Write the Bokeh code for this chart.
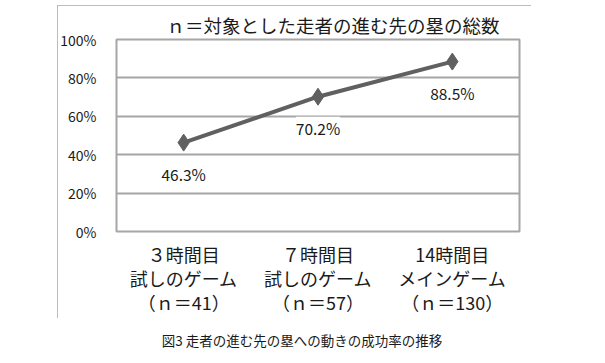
from bokeh.plotting import figure
from bokeh.models import (ColumnDataSource, LabelSet, Div,
                          FixedTicker, PrintfTickFormatter, FactorRange, Range1d)
from bokeh.layouts import column
from bokeh.core.properties import value
from bokeh.embed import file_html
from bokeh.resources import INLINE

# ---- data ----
categories = ["３時間目\n試しのゲーム\n（ｎ＝41）",
              "７時間目\n試しのゲーム\n（ｎ＝57）",
              "14時間目\nメインゲーム\n（ｎ＝130）"]
rates = [46.3, 70.2, 88.5]
y_ticks = [0, 20, 40, 60, 80, 100]
title_text = "ｎ＝対象とした走者の進む先の塁の総数"
caption_text = "図3 走者の進む先の塁への動きの成功率の推移"

FONT = "Noto Sans CJK JP"
GRAY = "#a6a6a6"
LINE = "#606060"
TXT = "#1a1a1a"

src = ColumnDataSource(dict(cat=categories, rate=rates,
                            lab=[f"{v:.1f}%" for v in rates]))

p = figure(x_range=FactorRange(*categories), y_range=Range1d(0, 100),
           width=470, height=313, output_backend="svg", toolbar_location=None,
           min_border_left=55, min_border_top=34, min_border_right=12,
           min_border_bottom=87, frame_width=403, frame_height=192,
           margin=(5, 0, 0, 57))
p.styles = {"outline": f"2px solid {GRAY}", "outline-offset": "-2px"}
p.background_fill_color = "white"
p.border_fill_color = "white"
p.outline_line_color = GRAY
p.outline_line_width = 2

p.title.text = title_text
p.title.align = "left"
p.title.offset = 50
p.title.standoff = 4
p.title.text_font = FONT
p.title.text_font_style = "normal"
p.title.text_font_size = "18.5px"
p.title.text_color = TXT

p.xgrid.grid_line_color = None
p.ygrid.grid_line_color = GRAY
p.ygrid.grid_line_width = 2

p.yaxis.ticker = FixedTicker(ticks=y_ticks)
p.yaxis.formatter = PrintfTickFormatter(format="%d%%")
for ax in (p.xaxis, p.yaxis):
    ax.axis_line_color = None
    ax.major_tick_line_color = None
    ax.minor_tick_line_color = None
    ax.major_label_text_font = FONT
    ax.major_label_text_color = TXT
p.yaxis.major_label_text_font_size = "14px"
p.yaxis.major_label_standoff = 14
p.xaxis.major_label_text_font_size = "18px"
p.xaxis.major_label_text_line_height = 0.93
p.xaxis.major_label_standoff = 3

p.line("cat", "rate", source=src, line_color=LINE, line_width=4)
p.scatter("cat", "rate", source=src, marker="diamond", size=17,
          fill_color=LINE, line_color=LINE)

labels = LabelSet(x="cat", y="rate", text="lab", source=src,
                  y_offset=-31, text_align="center", text_baseline="middle",
                  text_font=value(FONT), text_font_size="15.5px",
                  text_color=TXT, background_fill_color="white")
p.add_layout(labels)

cap = Div(text=caption_text, width=470, margin=(12, 0, 0, 67),
          styles={"text-align": "center", "font-family": FONT,
                  "font-size": "13.5px", "color": TXT, "line-height": "20px"})

root = column(p, cap)
open("out.html", "w").write(file_html(root, INLINE))
